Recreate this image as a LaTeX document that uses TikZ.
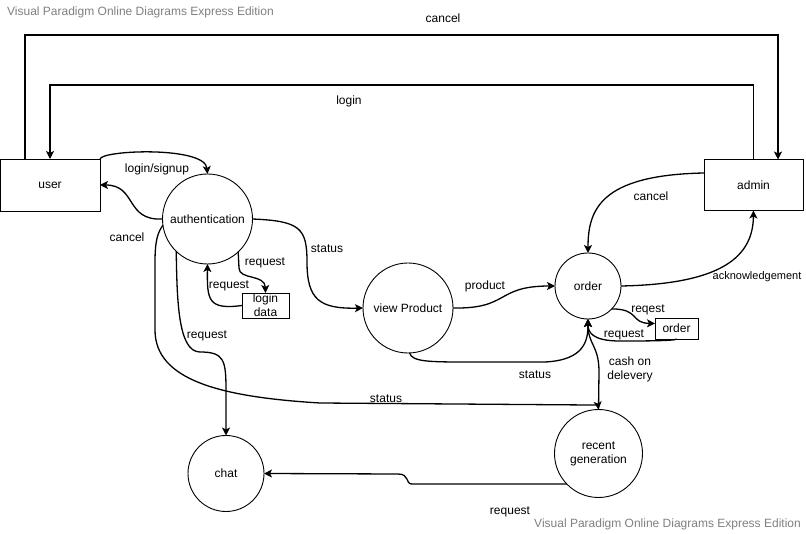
\documentclass[tikz,border=0pt]{standalone}
\usepackage{fontspec}
\setmainfont{Liberation Sans}
\usetikzlibrary{arrows.meta}
\begin{document}
\begin{tikzpicture}[x=1pt,y=-1pt,
  font=\fontsize{12}{14}\selectfont,
  ent/.style={draw,line width=0.9pt,rectangle,inner sep=0pt,outer sep=0pt,align=center},
  proc/.style={draw,line width=0.9pt,circle,inner sep=0pt,outer sep=0pt,align=center},
  flow/.style={line width=1.3pt,-{Stealth[length=8pt,width=8pt,inset=2pt]}},
  plain/.style={line width=1.3pt},
  lbl/.style={inner sep=0pt,align=center},
  wm/.style={inner sep=0pt,text=black!50}]
\useasboundingbox (0,0) rectangle (806,534);
% watermarks
\node[wm,anchor=west] (wm1) at (7,12) {Visual Paradigm Online Diagrams Express Edition};
\node[wm,anchor=east] (wm2) at (801,524) {Visual Paradigm Online Diagrams Express Edition};
% entities
\node[ent,minimum width=100pt,minimum height=52pt] (user) at (50,185) {user};
\node[ent,minimum width=99pt,minimum height=51pt] (admin) at (753.5,185) {admin};
\node[ent,minimum width=47pt,minimum height=25pt] (ld) at (265.5,305.5) {};
\node[lbl,font=\fontsize{12}{14}\selectfont] (ldt) at (265.5,305.5) {login\\data};
\node[ent,minimum width=43pt,minimum height=21pt] (orect) at (676.5,328.5) {order};
% processes
\node[proc,minimum size=90pt] (auth) at (207.5,219) {authentication};
\node[proc,minimum size=90pt] (vp) at (408,308) {view Product};
\node[proc,minimum size=66pt] (order) at (588,286) {order};
\node[proc,minimum size=76pt] (chat) at (226,473.5) {chat};
\node[proc,minimum size=88pt] (rg) at (598.5,453.5) {recent\\generation};
% helper coordinates
\coordinate (c1) at (25,35);
\coordinate (c2) at (778,35);
\coordinate (l1) at (753.5,85);
\coordinate (l2) at (50,85);
% cancel (outer loop)
\draw[flow] (user.north -| c1) -- (c1) -- (c2) -- (admin.north -| c2);
% login (inner loop)
\draw[flow] (admin.north) -- (l1) -- (l2) -- (user.north);
% login/signup
\draw[flow] (user.north east) .. controls (102,150) and (205,146) .. (auth.north);
% cancel auth -> user
\draw[flow] (auth.west) .. controls (125,221) and (137,185) .. (user.east);
% status auth -> view product
\draw[flow] (auth.east) .. controls (300,221) and (307,228) .. (307,262) .. controls (307,300) and (320,309) .. (vp.west);
% request auth -> login data
\draw[flow] (auth.-47) -- (239,268) .. controls (239,280) and (265,274) .. (ld.north);
% request login data -> auth
\draw[flow] (ld.west) .. controls (208,310) and (207,300) .. (auth.south);
% request auth -> chat
\draw[flow] (auth.-134) .. controls (177,300) and (178,352) .. (200,352) .. controls (224,352) and (226,360) .. (226,390) -- (chat.north);
% status auth -> recent generation
\coordinate (s1) at (590,405);
\draw[flow] (auth.188) .. controls (158,232) and (155,240) .. (155,262) -- (155,330) .. controls (155,380) and (220,397) .. (320,403) -- (s1) .. controls (598,405) .. (rg.north);
% product
\draw[flow] (vp.east) .. controls (510,309) and (495,286) .. (order.west);
% status view product -> order
\draw[flow] (vp.-88) .. controls (412,362) and (430,362) .. (470,362) -- (545,362) .. controls (585,360) and (588,340) .. (order.south);
% cash on delevery
\draw[flow] (rg.north) -- (599,372) .. controls (599,345) and (588,345) .. (order.south);
% reqest order -> order rect
\draw[flow] (order.-44) .. controls (640,309) and (630,323) .. ([yshift=5pt]orect.west);
% request order rect -> order
\draw[flow] (orect.south) .. controls (676,341) and (640,341) .. (620,341) .. controls (592,341) and (588,332) .. (order.south);
% cancel admin -> order
\draw[flow] ([yshift=12pt]admin.west) .. controls (600,175) and (588,210) .. (order.north);
% acknowledgement
\draw[flow] (order.east) .. controls (725,284) and (753,255) .. (admin.south);
% request recent generation -> chat
\draw[flow] (rg.-136) -- (412,484) .. controls (405,484) and (410,474) .. (398,474) -- (chat.east);
% labels
\node[lbl] (t1) at (443,18) {cancel};
\node[lbl] (t2) at (349,101) {login};
\node[lbl] (t3) at (157,169) {login/signup};
\node[lbl] (t4) at (127,237) {cancel};
\node[lbl] (t5) at (327,249) {status};
\node[lbl] (t6) at (265,263) {request};
\node[lbl] (t7) at (229,286) {request};
\node[lbl] (t8) at (207,336) {request};
\node[lbl] (t9) at (386,399) {status};
\node[lbl] (t10) at (485,286) {product};
\node[lbl] (t11) at (535,375) {status};
\node[lbl] (t12) at (630,369) {cash on\\delevery};
\node[lbl] (t13) at (648,310) {reqest};
\node[lbl] (t14) at (624,335) {request};
\node[lbl] (t15) at (651,196) {cancel};
\node[lbl,font=\fontsize{11}{13}\selectfont] (t16) at (757,277) {acknowledgement};
\node[lbl] (t17) at (510,512) {request};
\end{tikzpicture}
\end{document}
